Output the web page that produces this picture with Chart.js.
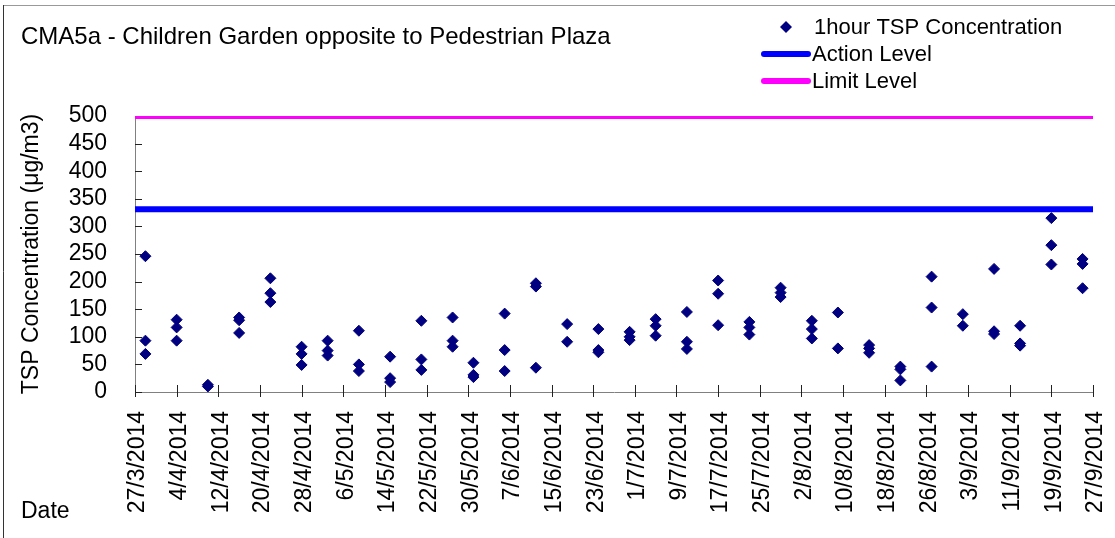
<!DOCTYPE html>
<html>
<head>
<meta charset="utf-8">
<title>CMA5a - 1hour TSP</title>
<script src="https://cdn.jsdelivr.net/npm/chart.js@4.4.1/dist/chart.umd.min.js"></script>
<style>
	body { margin: 0; background: #fff; }
	#wrap { position: relative; width: 1115px; height: 538px; }
</style>
</head>
<body>
<div id="wrap"><canvas id="chart" width="1115" height="538"></canvas></div>
<script>
const FONT = '"Liberation Sans", Arial, sans-serif';

const chartTitle = 'CMA5a - Children Garden opposite to Pedestrian Plaza';
const yAxisTitle = 'TSP Concentration (μg/m3)';
const xAxisTitle = 'Date';

// x axis ticks, every 8 days
const xTickLabels = [
	'27/3/2014', '4/4/2014', '12/4/2014', '20/4/2014', '28/4/2014', '6/5/2014',
	'14/5/2014', '22/5/2014', '30/5/2014', '7/6/2014', '15/6/2014', '23/6/2014',
	'1/7/2014', '9/7/2014', '17/7/2014', '25/7/2014', '2/8/2014', '10/8/2014',
	'18/8/2014', '26/8/2014', '3/9/2014', '11/9/2014', '19/9/2014', '27/9/2014'
];
const yTickValues = [0, 50, 100, 150, 200, 250, 300, 350, 400, 450, 500];

// monitoring days and the 1-hour results taken on each of them
const sampleDates = [
	'29/3/2014', '4/4/2014', '10/4/2014', '16/4/2014', '22/4/2014', '28/4/2014',
	'3/5/2014', '9/5/2014', '15/5/2014', '21/5/2014', '27/5/2014', '31/5/2014',
	'6/6/2014', '12/6/2014', '18/6/2014', '24/6/2014', '30/6/2014', '5/7/2014',
	'11/7/2014', '17/7/2014', '23/7/2014', '29/7/2014', '4/8/2014', '9/8/2014',
	'15/8/2014', '21/8/2014', '27/8/2014', '2/9/2014', '8/9/2014', '13/9/2014',
	'19/9/2014', '25/9/2014'
];
const tspValues = [
	[246, 93, 69], [131, 117, 93], [13, 10], [135, 130, 107], [206, 179, 163], [82, 69, 49],
	[93, 75, 66], [111, 50, 38], [64, 25, 18], [129, 59, 40], [135, 93, 82], [53, 31, 27],
	[142, 76, 38], [197, 191, 44], [123, 91], [114, 76, 72], [109, 100, 94], [132, 120, 102],
	[145, 91, 78], [202, 178, 121], [127, 117, 104], [189, 180, 172], [129, 114, 97], [144, 79],
	[85, 79, 71], [46, 41, 21], [209, 153, 46], [141, 120], [223, 110, 105], [120, 88, 84],
	[315, 266, 231], [241, 232, 188]
];

const actionLevel = 331;
const limitLevel = 500;

function dayNumber(str)
{
	const [d, m, y] = str.split('/').map(Number);
	const [d0, m0, y0] = xTickLabels[0].split('/').map(Number);
	return Math.round((Date.UTC(y, m - 1, d) - Date.UTC(y0, m0 - 1, d0)) / 86400000);
}

const xMin = dayNumber(xTickLabels[0]);
const xMax = dayNumber(xTickLabels[xTickLabels.length - 1]);

const tspPoints = [];
sampleDates.forEach((date, i) => {
	tspValues[i].forEach(v => tspPoints.push({x: dayNumber(date), y: v}));
});

const tickMarks = {
	id: 'tickMarks',
	beforeDatasetsDraw(chart)
	{
		const {ctx, chartArea, scales} = chart;
		ctx.save();
		ctx.strokeStyle = '#222';
		ctx.lineWidth = 1;
		ctx.beginPath();
		scales.y.ticks.forEach(t => {
			const py = Math.round(scales.y.getPixelForValue(t.value)) + 0.5;
			ctx.moveTo(chartArea.left, py);
			ctx.lineTo(chartArea.left + 7, py);
		});
		scales.x.ticks.forEach(t => {
			const px = Math.round(scales.x.getPixelForValue(t.value)) + 0.5;
			ctx.moveTo(px, chartArea.bottom - 7);
			ctx.lineTo(px, chartArea.bottom + 5);
		});
		ctx.stroke();
		ctx.restore();
	}
};

// frame, heading, legend and the "Date" caption
const decorations = {
	id: 'decorations',
	afterDraw(chart)
	{
		const ctx = chart.ctx;
		ctx.save();

		ctx.strokeStyle = '#999';
		ctx.lineWidth = 1;
		ctx.beginPath();
		ctx.moveTo(3, 5.5);
		ctx.lineTo(1115, 5.5);
		ctx.stroke();
		ctx.strokeStyle = '#333';
		ctx.beginPath();
		ctx.moveTo(3.5, 5);
		ctx.lineTo(3.5, 538);
		ctx.stroke();

		ctx.fillStyle = '#000';
		ctx.textAlign = 'left';
		ctx.textBaseline = 'alphabetic';
		ctx.font = '24px ' + FONT;
		ctx.fillText(chartTitle, 21, 44);
		ctx.font = '23px ' + FONT;
		ctx.fillText(xAxisTitle, 21, 518);

		const ds = chart.data.datasets;
		ctx.font = '22px ' + FONT;
		ctx.textBaseline = 'middle';

		ctx.fillStyle = ds[0].backgroundColor;
		ctx.beginPath();
		ctx.moveTo(786, 21);
		ctx.lineTo(792, 27);
		ctx.lineTo(786, 33);
		ctx.lineTo(780, 27);
		ctx.closePath();
		ctx.fill();
		ctx.fillStyle = '#000';
		ctx.fillText(ds[0].label, 814, 28);

		ctx.lineCap = 'round';
		[ds[1], ds[2]].forEach((d, i) => {
			const ly = 54 + i * 27;
			ctx.strokeStyle = d.borderColor;
			ctx.lineWidth = d.borderWidth;
			ctx.beginPath();
			ctx.moveTo(764, ly);
			ctx.lineTo(808, ly);
			ctx.stroke();
			ctx.fillText(d.label, 812, ly + 1);
		});

		ctx.restore();
	}
};

new Chart(document.getElementById('chart'), {
	type: 'scatter',
	data: {
		datasets: [
			{
				label: '1hour TSP Concentration',
				data: tspPoints,
				pointStyle: 'rectRot',
				pointRadius: 5.5,
				pointHoverRadius: 5.5,
				backgroundColor: '#000080',
				borderColor: '#000080',
				borderWidth: 1,
			},
			{
				type: 'line',
				label: 'Action Level',
				data: [{x: xMin, y: actionLevel}, {x: xMax, y: actionLevel}],
				borderColor: '#0000ff',
				backgroundColor: '#0000ff',
				borderWidth: 6,
				pointRadius: 0,
				fill: false,
			},
			{
				type: 'line',
				label: 'Limit Level',
				data: [{x: xMin, y: limitLevel}, {x: xMax, y: limitLevel}],
				borderColor: '#ff00ff',
				backgroundColor: '#ff00ff',
				borderWidth: 6,
				pointRadius: 0,
				fill: false,
			},
		]
	},
	options: {
		responsive: false,
		animation: false,
		events: [],
		layout: {
			padding: {top: 116, right: 22, bottom: 0, left: 12}
		},
		plugins: {
			legend: {display: false},
			title: {display: false},
			tooltip: {enabled: false},
		},
		scales: {
			x: {
				type: 'linear',
				min: xMin,
				max: xMax,
				afterBuildTicks: (scale) => {
					scale.ticks = xTickLabels.map(l => ({value: dayNumber(l)}));
				},
				afterFit: (scale) => {
					scale.height = 146;
					scale.paddingLeft = 0;
					scale.paddingRight = 0;
				},
				grid: {display: false, drawTicks: false},
				border: {display: true, color: '#808080', width: 1},
				ticks: {
					autoSkip: false,
					minRotation: 90,
					maxRotation: 90,
					padding: 19,
					labelOffset: 3,
					color: '#000',
					font: {family: FONT, size: 23},
					callback: (value) => xTickLabels.find(l => dayNumber(l) === value) || '',
				}
			},
			y: {
				min: 0,
				max: 500,
				afterBuildTicks: (scale) => {
					scale.ticks = yTickValues.map(v => ({value: v}));
				},
				afterFit: (scale) => {
					scale.width = 123;
					scale.paddingTop = 0;
					scale.paddingBottom = 0;
				},
				grid: {display: false, drawTicks: false},
				border: {display: true, color: '#808080', width: 1},
				title: {
					display: true,
					text: yAxisTitle,
					color: '#000',
					font: {family: FONT, size: 23},
					padding: {top: 6, bottom: 0},
				},
				ticks: {
					autoSkip: false,
					padding: 28,
					color: '#000',
					font: {family: FONT, size: 23},
				}
			}
		}
	},
	plugins: [tickMarks, decorations]
});
</script>
</body>
</html>
